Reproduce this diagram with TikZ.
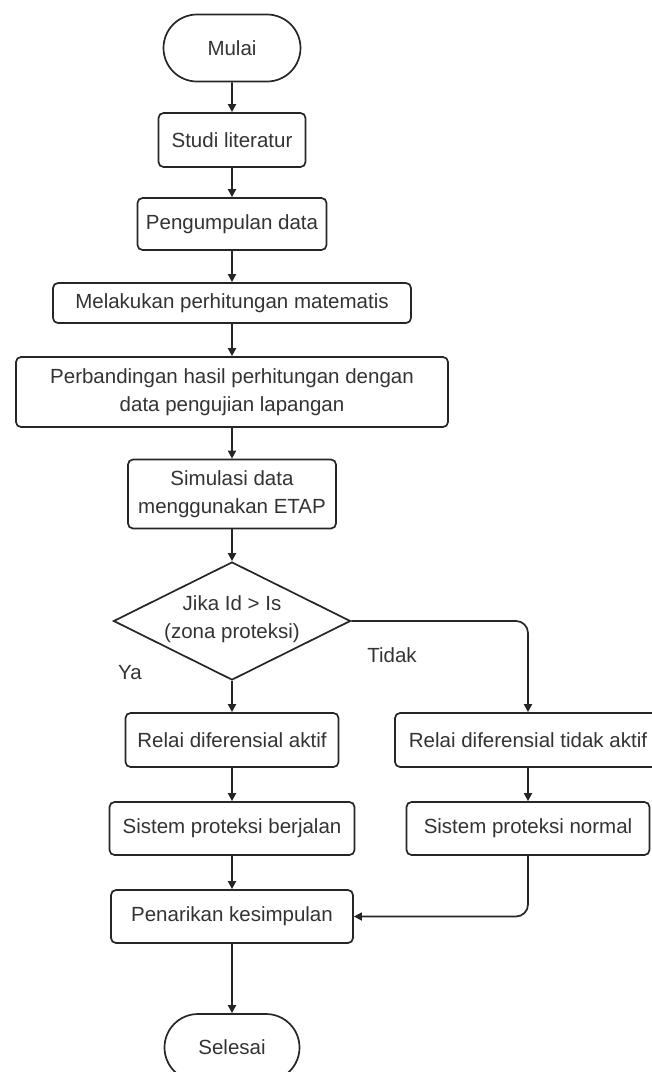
\documentclass[tikz,border=0pt]{standalone}
\usepackage{fontspec}
\setmainfont{Liberation Sans}
\usetikzlibrary{shapes.geometric,shapes.misc,arrows.meta}
\begin{document}
\begin{tikzpicture}[x=1pt,y=-1pt,
  base/.style={draw=black!85, line width=1.7pt, text=black!80,
    font=\fontsize{20.5}{28}\selectfont, inner sep=0pt, align=center},
  procbox/.style={base, rectangle, rounded corners=5pt},
  term/.style={base, rounded rectangle},
  decide/.style={base, diamond},
  flow/.style={draw=black!85, line width=1.7pt, -{Triangle[length=8pt,width=8pt]}},
  lbl/.style={text=black!80, font=\fontsize{20.5}{28}\selectfont, inner sep=0pt, align=center}
]
\useasboundingbox (0,0) rectangle (652,1072);
\clip (0,0) rectangle (652,1072);

\node[term, minimum width=137pt, minimum height=67pt] (start) at (232,48) {Mulai};
\node[procbox, minimum width=147pt, minimum height=54pt] (studi) at (232,140) {Studi literatur};
\node[procbox, minimum width=189pt, minimum height=52pt] (data) at (232,224) {Pengumpulan data};
\node[procbox, minimum width=358pt, minimum height=40pt] (hitung) at (232,303) {Melakukan perhitungan matematis};
\node[procbox, minimum width=432pt, minimum height=70pt] (banding) at (232,392) {Perbandingan hasil perhitungan dengan\\data pengujian lapangan};
\node[procbox, minimum width=208pt, minimum height=69pt] (sim) at (232,494) {Simulasi data\\menggunakan ETAP};
\node[decide, minimum width=237pt, minimum height=118pt] (dec) at (232,621) {};
\node[lbl] (dectext) at (232,619) {Jika Id > Is\\(zona proteksi)};
\node[procbox, minimum width=213pt, minimum height=54pt] (aktif) at (232,740) {Relai diferensial aktif};
\node[procbox, minimum width=266pt, minimum height=54pt] (tidak) at (528,740) {Relai diferensial tidak aktif};
\node[procbox, minimum width=245pt, minimum height=53pt] (jalan) at (232,828.5) {Sistem proteksi berjalan};
\node[procbox, minimum width=243pt, minimum height=53pt] (normal) at (528,828.5) {Sistem proteksi normal};
\node[procbox, minimum width=242pt, minimum height=53pt] (kes) at (232,916.5) {Penarikan kesimpulan};
\node[term, minimum width=135pt, minimum height=67pt] (end) at (232,1047.5) {Selesai};

\node[lbl] (ya) at (130,673) {Ya};
\node[lbl] (td) at (392,655) {Tidak};

\draw[flow] (start) -- (studi);
\draw[flow] (studi) -- (data);
\draw[flow] (data) -- (hitung);
\draw[flow] (hitung) -- (banding);
\draw[flow] (banding) -- (sim);
\draw[flow] (sim) -- (dec);
\draw[flow] (dec.south) -- (aktif);
\draw[flow] (aktif) -- (jalan);
\draw[flow] (jalan) -- (kes);
\draw[flow] (kes) -- (end);
\draw[flow, rounded corners=12pt] (dec.east) -| (tidak.north);
\draw[flow] (tidak) -- (normal);
\draw[flow, rounded corners=12pt] (normal.south) |- (kes.east);
\end{tikzpicture}
\end{document}
